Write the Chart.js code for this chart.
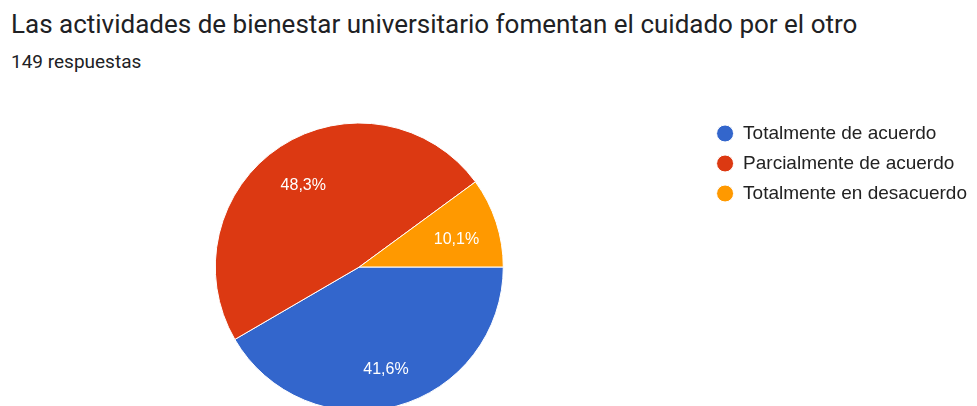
<!DOCTYPE html>
<html>
<head>
<meta charset="utf-8">
<script src="https://cdn.jsdelivr.net/npm/chart.js@4.4.1/dist/chart.umd.min.js"></script>
<style>
  html, body { margin: 0; padding: 0; background: #fff; overflow: hidden; }
  body { width: 977px; height: 406px; position: relative; }
  .title {
    position: absolute; left: 11px; top: 9px; white-space: nowrap;
    font-family: Roboto, sans-serif; font-size: 26px; color: #202124;
  }
  .sub {
    position: absolute; left: 11px; top: 50px; white-space: nowrap;
    font-family: Roboto, sans-serif; font-size: 19px; color: #202124;
  }
  #wrap { position: absolute; left: 0; top: 101px; width: 977px; height: 320px; }
</style>
</head>
<body>
<div class="title">Las actividades de bienestar universitario fomentan el cuidado por el otro</div>
<div class="sub">149 respuestas</div>
<div id="wrap"><canvas id="pie"></canvas></div>
<script>
/*
-------------------------------------
/// data
-------------------------------------
*/
const categories = ['Totalmente de acuerdo', 'Parcialmente de acuerdo', 'Totalmente en desacuerdo'];
const responses = [62, 72, 15];
const sliceColors = ['#3366cc', '#dc3912', '#ff9900'];

/*
-------------------------------------
/// percent labels inside slices
-------------------------------------
*/
const sliceLabels = {
  id: 'sliceLabels',
  afterDatasetsDraw(chart) {
    const ctx = chart.ctx;
    const meta = chart.getDatasetMeta(0);
    const total = responses.reduce((a, b) => a + b, 0);
    ctx.save();
    ctx.font = '16px "Liberation Sans", Arial, sans-serif';
    ctx.fillStyle = '#ffffff';
    ctx.textAlign = 'center';
    ctx.textBaseline = 'middle';
    meta.data.forEach((arc, i) => {
      const mid = (arc.startAngle + arc.endAngle) / 2;
      const r = arc.outerRadius * 0.71;
      const x = arc.x + Math.cos(mid) * r;
      const y = arc.y + Math.sin(mid) * r + 4;
      const pct = (responses[i] / total * 100).toFixed(1).replace('.', ',') + '%';
      ctx.fillText(pct, x, y);
    });
    ctx.restore();
  }
};

var ctx = document.getElementById('pie').getContext('2d');
var pieChart = new Chart(ctx, {
  type: 'pie',
  data: {
    labels: categories,
    datasets: [{
      data: responses,
      backgroundColor: sliceColors,
      borderColor: '#ffffff',
      borderWidth: 1
    }]
  },
  options: {
    responsive: true,
    maintainAspectRatio: false,
    animation: false,
    rotation: 90,
    radius: 144,
    layout: { padding: { left: 13, top: 12, bottom: 0, right: 0 } },
    plugins: {
      tooltip: { enabled: false },
      legend: {
        position: 'right',
        align: 'start',
        labels: {
          usePointStyle: true,
          pointStyle: 'circle',
          boxWidth: 12,
          boxHeight: 12,
          pointStyleWidth: 17,
          padding: 11,
          color: '#222222',
          font: { family: '"Liberation Sans", Arial, sans-serif', size: 19 }
        }
      }
    }
  },
  plugins: [sliceLabels]
});
</script>
</body>
</html>
